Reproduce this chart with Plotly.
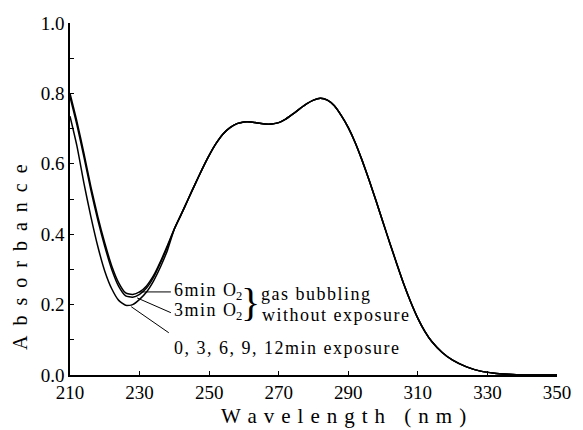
import plotly.graph_objects as go

# ---- data ----
wl_left = [210, 212, 214, 216, 218, 220, 222, 224, 226, 228, 230, 232, 234, 236, 238]
abs_6min_left = [0.800, 0.720, 0.630, 0.535, 0.450, 0.375, 0.310, 0.262, 0.233, 0.229, 0.236, 0.253, 0.282, 0.322, 0.368]
abs_3min_left = [0.790, 0.710, 0.620, 0.525, 0.440, 0.365, 0.300, 0.252, 0.225, 0.221, 0.229, 0.247, 0.277, 0.318, 0.364]
abs_exp_left = [0.735, 0.650, 0.545, 0.450, 0.365, 0.295, 0.245, 0.212, 0.198, 0.200, 0.215, 0.236, 0.267, 0.307, 0.354]

wl_common = [240, 242, 244, 246, 248, 250, 252, 254, 256, 258, 260, 262, 264, 266, 268,
             270, 272, 274, 276, 278, 280, 282, 284, 286, 288, 290, 292, 294, 296, 298,
             300, 302, 304, 306, 308, 310, 312, 314, 317, 320, 324, 328, 332, 336, 340,
             345, 350]
abs_common = [0.415, 0.457, 0.500, 0.543, 0.585, 0.624, 0.658, 0.685, 0.703, 0.714, 0.719, 0.719, 0.716, 0.713, 0.713,
              0.717, 0.727, 0.741, 0.756, 0.770, 0.781, 0.786, 0.781, 0.765, 0.737, 0.703, 0.660, 0.609, 0.553, 0.494,
              0.433, 0.373, 0.314, 0.257, 0.206, 0.161, 0.124, 0.095, 0.064, 0.042, 0.023, 0.011, 0.005, 0.002, 0.0,
              0.0, 0.0]

x_ticks = [210, 230, 250, 270, 290, 310, 330, 350]
y_ticks = [0.0, 0.2, 0.4, 0.6, 0.8, 1.0]
y_tick_labels = ["0.0", "0.2", "0.4", "0.6", "0.8", "1.0"]

FONT = "Liberation Serif"
HAIR = "\u200a"
EN = "\u2002"

def spaced(s, sep):
    return sep.join(list(s))

fig = go.Figure()
for left in [abs_6min_left, abs_3min_left, abs_exp_left]:
    fig.add_trace(go.Scatter(
        x=wl_left + wl_common, y=left + abs_common,
        mode="lines", line=dict(color="black", width=1.5, shape="spline", smoothing=0.6),
        showlegend=False, hoverinfo="skip"))

# leader lines
leaders = [
    ((229.9, 0.236), (239.0, 0.236)),
    ((229.3, 0.219), (239.0, 0.177)),
    ((227.6, 0.194), (238.4, 0.120)),
]
for (x0, y0), (x1, y1) in leaders:
    fig.add_shape(type="line", x0=x0, y0=y0, x1=x1, y1=y1,
                  line=dict(color="black", width=1))

tf = dict(family=FONT, size=18, color="black")
ann = [
    (239.3, 0.238, spaced("6min O", HAIR) + "<sub>2</sub>"),
    (239.3, 0.180, spaced("3min O", HAIR) + "<sub>2</sub>"),
    (264.3, 0.230, spaced("gas bubbling", HAIR)),
    (264.6, 0.170, spaced("without exposure", HAIR)),
    (239.3, 0.077, spaced("0, 3, 6, 9, 12min exposure", HAIR)),
]
for x, y, t in ann:
    fig.add_annotation(x=x, y=y, text=t, showarrow=False, xanchor="left",
                       yanchor="middle", font=tf)
fig.add_annotation(x=262.0, y=0.205, text="}", showarrow=False, xanchor="center",
                   yanchor="middle", font=dict(family=FONT, size=40, color="black"))

# axis titles
fig.add_annotation(xref="paper", yref="paper", x=0.562, y=-0.1165,
                   text=spaced("Wavelength (nm)", " " + HAIR), showarrow=False,
                   xanchor="center", yanchor="middle",
                   font=dict(family=FONT, size=21, color="black"))
fig.add_annotation(xref="paper", yref="paper", x=-0.103, y=0.335,
                   text=spaced("Absorbance", EN), showarrow=False, textangle=-90,
                   xanchor="center", yanchor="middle",
                   font=dict(family=FONT, size=20, color="black"))

fig.update_layout(
    width=583, height=430,
    margin=dict(l=70, r=20, t=23, b=55),
    paper_bgcolor="white", plot_bgcolor="white",
    font=dict(family=FONT, size=18, color="black"),
)
fig.update_xaxes(
    range=[210, 350], tickvals=x_ticks, ticktext=[str(v) for v in x_ticks],
    ticks="inside", ticklen=4, tickcolor="black", ticklabelstandoff=-1,
    showline=True, linecolor="black", linewidth=1.5, showgrid=False, zeroline=False,
    tickfont=dict(family=FONT, size=19),
)
fig.update_yaxes(
    range=[0, 1.0], tickvals=y_ticks, ticktext=y_tick_labels,
    ticks="inside", ticklen=4, tickcolor="black",
    minor=dict(tickvals=[0.1, 0.3, 0.5, 0.7, 0.9], ticks="inside", ticklen=4, tickcolor="black"),
    showline=True, linecolor="black", linewidth=1.5, showgrid=False, zeroline=False,
    tickfont=dict(family=FONT, size=19),
)

fig.write_html("out.html")
